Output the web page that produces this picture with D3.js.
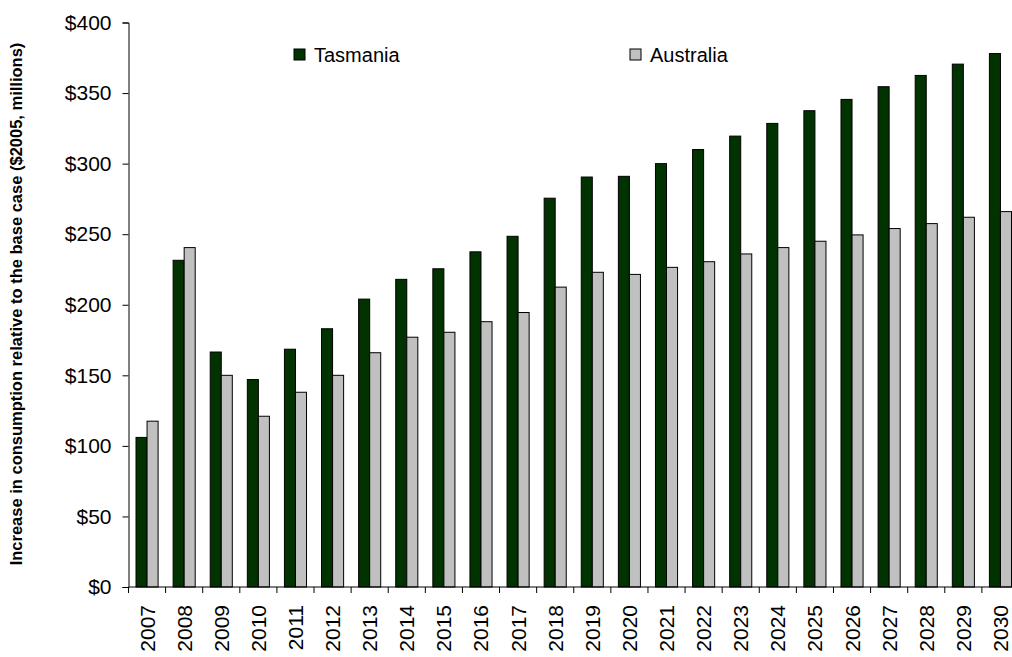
<!DOCTYPE html>
<html>
<head>
<meta charset="utf-8">
<script src="https://cdn.jsdelivr.net/npm/d3@7"></script>
<style>
  body { margin: 0; background: #fff; }
  svg { display: block; font-family: "Liberation Sans", Arial, sans-serif; }
</style>
</head>
<body>
<div id="chart"></div>
<script>
// chart data
const years = ['2007','2008','2009','2010','2011','2012','2013','2014','2015','2016','2017','2018',
  '2019','2020','2021','2022','2023','2024','2025','2026','2027','2028','2029','2030'];
const tasmania = [106, 231.5, 166.5, 147, 168.5, 183, 204, 218, 225.5, 237.5, 248.5, 275.5,
  290.5, 291, 300, 310, 319.5, 328.5, 337.5, 345.5, 354.5, 362.5, 370.5, 378];
const australia = [117.5, 240.5, 150, 121, 138, 150, 166, 177, 180.5, 188, 194.5, 212.5,
  223, 221.5, 226.5, 230.5, 236, 240.5, 245, 249.5, 254, 257.5, 262, 266];
const seriesNames = ['Tasmania', 'Australia'];
const yTicks = [0, 50, 100, 150, 200, 250, 300, 350, 400];

const width = 1012, height = 657;
const plot = { left: 128.5, right: 1019, top: 22.5, bottom: 587 };

const colors = { Tasmania: '#003300', Australia: '#c0c0c0' };

const svg = d3.select('#chart')
  .append('svg')
  .attr('width', width)
  .attr('height', height);

const x0 = d3.scaleBand()
  .domain(years)
  .range([plot.left, plot.right])
  .padding(0);

const x1 = d3.scaleBand()
  .domain(seriesNames)
  .range([0, x0.bandwidth()])
  .paddingInner(0)
  .paddingOuter(0.68);

const y = d3.scaleLinear()
  .domain([0, 400])
  .range([plot.bottom, plot.top]);

const rows = years.map((yr, i) => ({
  year: yr,
  values: [
    { key: 'Tasmania', value: tasmania[i] },
    { key: 'Australia', value: australia[i] }
  ]
}));

// bars
const groups = svg.append('g')
  .selectAll('g')
  .data(rows)
  .enter()
  .append('g')
  .attr('transform', d => `translate(${x0(d.year)},0)`);

groups.selectAll('rect')
  .data(d => d.values)
  .enter()
  .append('rect')
  .attr('x', d => x1(d.key))
  .attr('y', d => y(d.value))
  .attr('width', x1.bandwidth())
  .attr('height', d => y(0) - y(d.value))
  .attr('fill', d => colors[d.key])
  .attr('stroke', '#000')
  .attr('stroke-width', 1);

// y axis
const yAxis = svg.append('g')
  .attr('transform', `translate(${plot.left},0)`)
  .call(d3.axisLeft(y).tickValues(yTicks).tickSize(6).tickPadding(11)
    .tickFormat(d => '$' + d));
yAxis.selectAll('path, line').attr('stroke', '#000');
yAxis.selectAll('text').attr('font-size', 21).attr('fill', '#000')
  .attr('font-family', '"Liberation Sans", Arial, sans-serif');

// x axis: ticks between categories
const xAxisG = svg.append('g');
xAxisG.append('line')
  .attr('x1', plot.left).attr('x2', plot.right)
  .attr('y1', plot.bottom).attr('y2', plot.bottom)
  .attr('stroke', '#000');
xAxisG.selectAll('line.tick')
  .data(years)
  .enter()
  .append('line')
  .attr('class', 'tick')
  .attr('x1', d => x0(d)).attr('x2', d => x0(d))
  .attr('y1', plot.bottom).attr('y2', plot.bottom + 6)
  .attr('stroke', '#000');
xAxisG.selectAll('text')
  .data(years)
  .enter()
  .append('text')
  .attr('transform', d => `translate(${x0(d) + x0.bandwidth() / 2 + 7.5},${plot.bottom + 18}) rotate(-90)`)
  .attr('text-anchor', 'end')
  .attr('font-size', 21)
  .attr('fill', '#000')
  .text(d => d);

// y axis title
svg.append('text')
  .attr('transform', `translate(22,304) rotate(-90)`)
  .attr('text-anchor', 'middle')
  .attr('font-size', 16.5)
  .attr('font-weight', 'bold')
  .attr('fill', '#000')
  .text('Increase in consumption relative to the base case ($2005, millions)');

// legend
const legendPos = { Tasmania: 294, Australia: 630 };
const legend = svg.append('g');
seriesNames.forEach(name => {
  legend.append('rect')
    .attr('x', legendPos[name]).attr('y', 49)
    .attr('width', 11).attr('height', 11)
    .attr('fill', colors[name])
    .attr('stroke', '#000');
  legend.append('text')
    .attr('x', legendPos[name] + 20).attr('y', 62)
    .attr('font-size', 20)
    .attr('fill', '#000')
    .text(name);
});
</script>
</body>
</html>
